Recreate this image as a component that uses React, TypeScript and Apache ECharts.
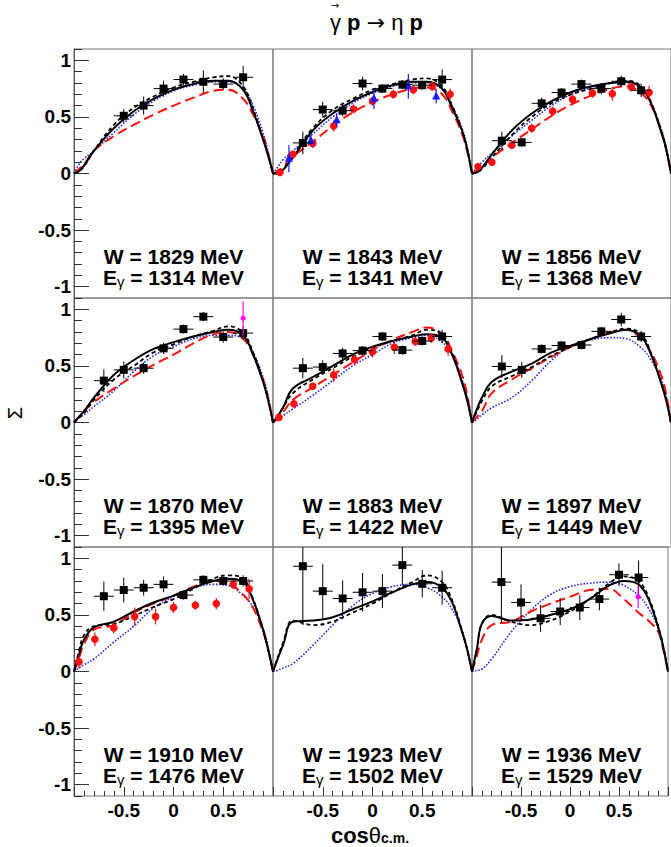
import React, { useEffect, useRef } from 'react';
import * as echarts from 'echarts';

// ---------------- data ----------------
const curveX = [-1, -0.95, -0.9, -0.8, -0.6, -0.4, -0.2, 0, 0.2, 0.4, 0.55, 0.7, 0.8, 0.9, 0.95, 1];
const wValues = [1829, 1843, 1856, 1870, 1883, 1897, 1910, 1923, 1936];
const eValues = [1314, 1341, 1368, 1395, 1422, 1449, 1476, 1502, 1529];
const yTickValues = [-1, -0.5, 0, 0.5, 1];

// black solid model curve, one row per panel (values at curveX)
const solidCurves = [
  [0, 0.02, 0.07, 0.2, 0.4, 0.55, 0.66, 0.74, 0.79, 0.82, 0.82, 0.74, 0.55, 0.3, 0.16, 0],
  [0, 0.0, 0.03, 0.14, 0.38, 0.53, 0.64, 0.72, 0.78, 0.81, 0.81, 0.75, 0.58, 0.38, 0.22, 0],
  [0, 0.01, 0.05, 0.17, 0.38, 0.53, 0.64, 0.72, 0.77, 0.8, 0.81, 0.76, 0.62, 0.37, 0.22, 0],
  [0, 0.05, 0.1, 0.22, 0.42, 0.55, 0.65, 0.71, 0.76, 0.8, 0.82, 0.77, 0.6, 0.36, 0.2, 0],
  [0, 0.06, 0.13, 0.3, 0.4, 0.5, 0.6, 0.67, 0.72, 0.76, 0.78, 0.75, 0.6, 0.35, 0.2, 0],
  [0, 0.12, 0.22, 0.36, 0.45, 0.52, 0.62, 0.68, 0.74, 0.79, 0.82, 0.76, 0.6, 0.35, 0.2, 0],
  [0, 0.15, 0.28, 0.39, 0.44, 0.53, 0.61, 0.67, 0.74, 0.8, 0.82, 0.79, 0.63, 0.37, 0.2, 0],
  [0, 0.12, 0.23, 0.44, 0.45, 0.48, 0.55, 0.62, 0.7, 0.77, 0.79, 0.74, 0.61, 0.35, 0.2, 0],
  [0, 0.2, 0.42, 0.49, 0.45, 0.46, 0.5, 0.55, 0.64, 0.76, 0.8, 0.77, 0.64, 0.39, 0.22, 0],
];
// black dashed model curve
const dashedCurves = [
  [0, 0.02, 0.06, 0.2, 0.43, 0.58, 0.68, 0.76, 0.81, 0.85, 0.86, 0.77, 0.57, 0.31, 0.17, 0],
  [0, 0.01, 0.04, 0.16, 0.4, 0.56, 0.66, 0.74, 0.79, 0.83, 0.84, 0.77, 0.6, 0.38, 0.22, 0],
  [0, 0.01, 0.04, 0.14, 0.34, 0.5, 0.62, 0.7, 0.75, 0.8, 0.82, 0.77, 0.63, 0.38, 0.22, 0],
  [0, 0.04, 0.08, 0.2, 0.38, 0.5, 0.62, 0.69, 0.76, 0.81, 0.85, 0.79, 0.62, 0.37, 0.21, 0],
  [0, 0.06, 0.13, 0.26, 0.38, 0.48, 0.58, 0.66, 0.72, 0.77, 0.82, 0.78, 0.62, 0.36, 0.21, 0],
  [0, 0.1, 0.19, 0.32, 0.41, 0.49, 0.59, 0.67, 0.74, 0.8, 0.83, 0.78, 0.61, 0.36, 0.21, 0],
  [0, 0.18, 0.32, 0.4, 0.42, 0.49, 0.57, 0.64, 0.73, 0.82, 0.85, 0.82, 0.64, 0.37, 0.2, 0],
  [0, 0.13, 0.25, 0.45, 0.41, 0.44, 0.52, 0.6, 0.7, 0.79, 0.85, 0.79, 0.63, 0.36, 0.2, 0],
  [0, 0.2, 0.42, 0.5, 0.44, 0.41, 0.45, 0.53, 0.64, 0.78, 0.84, 0.8, 0.66, 0.4, 0.23, 0],
];
// blue dotted model curve
const blueCurves = [
  [0, 0.08, 0.13, 0.2, 0.36, 0.52, 0.64, 0.73, 0.78, 0.81, 0.81, 0.75, 0.6, 0.36, 0.2, 0],
  [0, 0.06, 0.12, 0.2, 0.35, 0.5, 0.62, 0.71, 0.77, 0.8, 0.8, 0.74, 0.6, 0.4, 0.24, 0],
  [0, 0.05, 0.1, 0.18, 0.33, 0.47, 0.6, 0.7, 0.76, 0.8, 0.8, 0.75, 0.62, 0.4, 0.24, 0],
  [0, 0.04, 0.07, 0.14, 0.28, 0.45, 0.59, 0.67, 0.74, 0.77, 0.77, 0.74, 0.62, 0.4, 0.24, 0],
  [0, 0.03, 0.06, 0.12, 0.24, 0.37, 0.5, 0.6, 0.7, 0.75, 0.77, 0.71, 0.6, 0.38, 0.22, 0],
  [0, 0.03, 0.07, 0.13, 0.22, 0.37, 0.55, 0.68, 0.73, 0.75, 0.74, 0.66, 0.55, 0.38, 0.24, 0],
  [0, 0.03, 0.06, 0.11, 0.26, 0.4, 0.56, 0.66, 0.74, 0.77, 0.76, 0.67, 0.57, 0.38, 0.22, 0],
  [0, 0.01, 0.03, 0.07, 0.23, 0.41, 0.58, 0.69, 0.75, 0.77, 0.74, 0.66, 0.55, 0.36, 0.2, 0],
  [0, 0.01, 0.02, 0.11, 0.35, 0.54, 0.68, 0.75, 0.78, 0.79, 0.76, 0.67, 0.56, 0.38, 0.22, 0],
];
// red long-dashed model curve (none in the W = 1923 MeV panel)
const redCurves = [
  [0, 0.04, 0.08, 0.2, 0.33, 0.43, 0.52, 0.6, 0.67, 0.73, 0.74, 0.66, 0.52, 0.33, 0.18, 0],
  [0, 0.02, 0.06, 0.15, 0.28, 0.42, 0.54, 0.63, 0.7, 0.75, 0.76, 0.7, 0.55, 0.35, 0.2, 0],
  [0, 0.03, 0.06, 0.14, 0.27, 0.39, 0.51, 0.61, 0.69, 0.75, 0.77, 0.71, 0.6, 0.38, 0.22, 0],
  [0, 0.05, 0.1, 0.18, 0.3, 0.41, 0.51, 0.6, 0.7, 0.78, 0.8, 0.74, 0.6, 0.38, 0.22, 0],
  [0, 0.04, 0.09, 0.2, 0.31, 0.42, 0.53, 0.64, 0.73, 0.8, 0.84, 0.78, 0.63, 0.42, 0.25, 0],
  [0, 0.05, 0.1, 0.26, 0.38, 0.48, 0.58, 0.67, 0.74, 0.8, 0.82, 0.74, 0.62, 0.42, 0.26, 0],
  [0, 0.12, 0.24, 0.37, 0.41, 0.52, 0.6, 0.67, 0.75, 0.8, 0.78, 0.68, 0.56, 0.35, 0.2, 0],
  null,
  [0, 0.14, 0.28, 0.41, 0.44, 0.53, 0.6, 0.66, 0.72, 0.73, 0.64, 0.52, 0.45, 0.35, 0.2, 0],
];

// black squares: [cos, sigma, xErr, yErr]
const squarePoints = [
  [[-0.5, 0.51, 0.1, 0.06], [-0.3, 0.6, 0.1, 0.08], [-0.1, 0.75, 0.1, 0.07], [0.1, 0.83, 0.1, 0.05], [0.3, 0.81, 0.1, 0.1], [0.5, 0.79, 0.1, 0.05], [0.7, 0.85, 0.1, 0.1]],
  [[-0.7, 0.27, 0.1, 0.1], [-0.5, 0.565, 0.1, 0.07], [-0.3, 0.555, 0.1, 0.05], [-0.1, 0.795, 0.1, 0.06], [0.1, 0.75, 0.1, 0.04], [0.3, 0.785, 0.1, 0.04], [0.5, 0.78, 0.1, 0.04], [0.7, 0.83, 0.1, 0.09]],
  [[-0.7, 0.29, 0.1, 0.08], [-0.5, 0.275, 0.1, 0.04], [-0.3, 0.62, 0.1, 0.05], [-0.1, 0.715, 0.1, 0.04], [0.1, 0.79, 0.1, 0.04], [0.3, 0.75, 0.1, 0.05], [0.5, 0.815, 0.1, 0.05], [0.7, 0.735, 0.1, 0.06]],
  [[-0.7, 0.37, 0.1, 0.1], [-0.5, 0.465, 0.1, 0.075], [-0.3, 0.48, 0.1, 0.05], [-0.1, 0.655, 0.1, 0.05], [0.1, 0.825, 0.1, 0.04], [0.3, 0.935, 0.1, 0.04], [0.5, 0.755, 0.1, 0.05], [0.7, 0.79, 0.1, 0.06]],
  [[-0.7, 0.48, 0.1, 0.09], [-0.5, 0.49, 0.1, 0.06], [-0.3, 0.61, 0.1, 0.05], [-0.1, 0.635, 0.1, 0.04], [0.1, 0.76, 0.1, 0.04], [0.3, 0.64, 0.1, 0.04], [0.5, 0.72, 0.1, 0.04], [0.7, 0.76, 0.1, 0.06]],
  [[-0.7, 0.495, 0.1, 0.1], [-0.5, 0.465, 0.1, 0.07], [-0.3, 0.65, 0.1, 0.04], [-0.1, 0.68, 0.1, 0.04], [0.1, 0.685, 0.1, 0.04], [0.3, 0.805, 0.1, 0.04], [0.5, 0.91, 0.1, 0.06], [0.7, 0.76, 0.1, 0.05]],
  [[-0.7, 0.665, 0.1, 0.13], [-0.5, 0.72, 0.1, 0.11], [-0.3, 0.74, 0.1, 0.07], [-0.1, 0.77, 0.1, 0.07], [0.1, 0.675, 0.1, 0.04], [0.3, 0.81, 0.1, 0.04], [0.5, 0.8, 0.1, 0.04], [0.7, 0.8, 0.1, 0.05]],
  [[-0.7, 0.93, 0.1, 0.52], [-0.5, 0.71, 0.1, 0.24], [-0.3, 0.645, 0.1, 0.16], [-0.1, 0.7, 0.1, 0.17], [0.1, 0.71, 0.1, 0.15], [0.3, 0.94, 0.1, 0.18], [0.5, 0.775, 0.1, 0.12], [0.7, 0.74, 0.1, 0.15]],
  [[-0.7, 0.79, 0.1, 0.36], [-0.5, 0.61, 0.1, 0.16], [-0.3, 0.47, 0.1, 0.12], [-0.1, 0.53, 0.1, 0.12], [0.1, 0.565, 0.1, 0.11], [0.3, 0.64, 0.1, 0.1], [0.5, 0.855, 0.1, 0.1], [0.7, 0.83, 0.1, 0.15]],
];
// red circles: [cos, sigma, yErr]
const redPoints = [
  [],
  [[-0.93, 0.01, 0.03], [-0.8, 0.17, 0.03], [-0.6, 0.265, 0.04], [-0.39, 0.42, 0.05], [-0.19, 0.57, 0.04], [0.0, 0.64, 0.04], [0.21, 0.7, 0.04], [0.41, 0.74, 0.04], [0.6, 0.77, 0.04], [0.78, 0.7, 0.05]],
  [[-0.94, 0.06, 0.03], [-0.8, 0.1, 0.03], [-0.6, 0.25, 0.03], [-0.4, 0.4, 0.04], [-0.19, 0.55, 0.04], [0.01, 0.655, 0.05], [0.21, 0.71, 0.04], [0.41, 0.705, 0.06], [0.6, 0.765, 0.04], [0.78, 0.715, 0.06]],
  [],
  [[-0.94, 0.045, 0.03], [-0.79, 0.165, 0.03], [-0.6, 0.32, 0.03], [-0.39, 0.42, 0.06], [-0.18, 0.555, 0.05], [0.0, 0.625, 0.05], [0.22, 0.665, 0.06], [0.43, 0.715, 0.04], [0.59, 0.745, 0.04], [0.76, 0.65, 0.06]],
  [],
  [[-0.95, 0.085, 0.06], [-0.79, 0.285, 0.06], [-0.6, 0.385, 0.05], [-0.39, 0.485, 0.08], [-0.18, 0.485, 0.07], [0.0, 0.565, 0.05], [0.22, 0.585, 0.04], [0.43, 0.6, 0.05], [0.6, 0.77, 0.04], [0.76, 0.73, 0.09]],
  [],
  [],
];
// blue triangles: [cos, sigma, yErr]
const trianglePoints = [
  [],
  [[-0.84, 0.13, 0.12], [-0.62, 0.29, 0.05], [-0.36, 0.47, 0.06], [0.015, 0.66, 0.09], [0.36, 0.77, 0.11], [0.64, 0.68, 0.06]],
  [], [], [], [], [], [], [],
];
// magenta points: [cos, sigma, yErr]
const magentaPoints = [
  [], [], [],
  [[0.7, 0.92, 0.15]],
  [], [], [], [],
  [[0.695, 0.66, 0.1]],
];

// ---------------- layout ----------------
const FONT = '"Liberation Sans", Arial, Helvetica, sans-serif';
const PX0 = 74;
const PY0 = 49;
const PW = 199;
const PH = 249;

function renderSquare(params: any, api: any) {
  const x = api.value(0), y = api.value(1), ex = api.value(2), ey = api.value(3);
  const c = api.coord([x, y]);
  const l = api.coord([x - ex, y]);
  const r = api.coord([x + ex, y]);
  const t = api.coord([x, y + ey]);
  const b = api.coord([x, y - ey]);
  return {
    type: 'group',
    children: [
      { type: 'line', shape: { x1: l[0], y1: l[1], x2: r[0], y2: r[1] }, style: { stroke: '#000', lineWidth: 1 } },
      { type: 'line', shape: { x1: t[0], y1: t[1], x2: b[0], y2: b[1] }, style: { stroke: '#000', lineWidth: 1 } },
      { type: 'rect', shape: { x: c[0] - 4, y: c[1] - 4, width: 8, height: 8 }, style: { fill: '#000' } },
    ],
  };
}

function makeVertical(color: string, marker: string, size: number) {
  return (params: any, api: any) => {
    const x = api.value(0), y = api.value(1), ey = api.value(2);
    const c = api.coord([x, y]);
    const t = api.coord([x, y + ey]);
    const b = api.coord([x, y - ey]);
    const children: any[] = [
      { type: 'line', shape: { x1: t[0], y1: t[1], x2: b[0], y2: b[1] }, style: { stroke: color, lineWidth: 1.2 } },
    ];
    if (marker === 'circle') {
      children.push({ type: 'circle', shape: { cx: c[0], cy: c[1], r: size }, style: { fill: color } });
    } else {
      children.push({
        type: 'polygon',
        shape: { points: [[c[0], c[1] - size - 1], [c[0] - size, c[1] + size - 1], [c[0] + size, c[1] + size - 1]] },
        style: { fill: color },
      });
    }
    return { type: 'group', children };
  };
}

function buildOption() {
  const grid: any[] = [];
  const xAxis: any[] = [];
  const yAxis: any[] = [];
  const series: any[] = [];
  const graphic: any[] = [];
  const labelFont = { color: '#000', fontSize: 19, fontWeight: 'bold', fontFamily: FONT };

  for (let i = 0; i < 9; i++) {
    const r = Math.floor(i / 3);
    const c = i % 3;
    const left = PX0 + PW * c;
    const top = PY0 + PH * r;
    const bottomRow = r === 2;
    grid.push({ left, top, width: PW, height: PH, show: true, borderColor: '#777', borderWidth: 1, backgroundColor: 'transparent' });
    xAxis.push({
      type: 'value', gridIndex: i, min: -1, max: 1, interval: 0.5, position: 'bottom',
      axisLine: { show: false, onZero: false }, splitLine: { show: false },
      axisTick: { show: bottomRow, inside: true, length: 9, lineStyle: { color: '#333', width: 1 } },
      minorTick: { show: bottomRow, splitNumber: 5, length: 5, lineStyle: { color: '#333', width: 1 } },
      minorSplitLine: { show: false },
      axisLabel: {
        show: bottomRow, margin: 5, ...labelFont,
        formatter: (v: number) => (Math.abs(v) > 0.99 ? '' : String(v)),
      },
    });
    yAxis.push({
      type: 'value', gridIndex: i, min: -1.1, max: 1.1, interval: 0.1, position: 'left',
      axisLine: { show: c === 0, onZero: false, lineStyle: { color: '#555', width: 1 } },
      splitLine: { show: false },
      axisTick: { show: c === 0, inside: true, length: 8, lineStyle: { color: '#333', width: 1 } },
      axisLabel: { show: false },
    });

    const xy = (arr: number[]) => curveX.map((x, k) => [x, arr[k]]);
    const line = (data: number[], color: string, width: number, type: any, z: number) => ({
      type: 'line', xAxisIndex: i, yAxisIndex: i, data: xy(data), showSymbol: false, symbol: 'none',
      smooth: 0.4, silent: true, z,
      lineStyle: { color, width, type },
    });
    series.push(line(blueCurves[i], '#2a2aff', 1.6, 'dotted', 2));
    if (redCurves[i]) series.push(line(redCurves[i] as number[], '#ff1010', 2, [10, 5], 3));
    series.push(line(dashedCurves[i], '#000', 1.8, [4, 3], 4));
    series.push(line(solidCurves[i], '#000', 2, 'solid', 5));

    if (redPoints[i].length) {
      series.push({ type: 'custom', xAxisIndex: i, yAxisIndex: i, clip: true, z: 8, silent: true,
        data: redPoints[i], encode: { x: 0, y: 1 }, renderItem: makeVertical('#ff1010', 'circle', 3.8) });
    }
    if (trianglePoints[i].length) {
      series.push({ type: 'custom', xAxisIndex: i, yAxisIndex: i, clip: true, z: 9, silent: true,
        data: trianglePoints[i], encode: { x: 0, y: 1 }, renderItem: makeVertical('#1a1aff', 'triangle', 4) });
    }
    series.push({ type: 'custom', xAxisIndex: i, yAxisIndex: i, clip: true, z: 10, silent: true,
      data: squarePoints[i], encode: { x: 0, y: 1 }, renderItem: renderSquare });
    if (magentaPoints[i].length) {
      series.push({ type: 'custom', xAxisIndex: i, yAxisIndex: i, clip: true, z: 11, silent: true,
        data: magentaPoints[i], encode: { x: 0, y: 1 }, renderItem: makeVertical('#ff00ff', 'circle', 2.6) });
    }

    const cx = left + PW / 2;
    graphic.push({
      type: 'text', x: cx, y: top + 207, z: 100,
      style: { text: `W = ${wValues[i]} MeV`, fontSize: 21, fontWeight: 'bold', fontFamily: FONT, fill: '#000',
        textAlign: 'center', verticalAlign: 'middle', textVerticalAlign: 'middle' },
    });
    graphic.push({
      type: 'text', x: cx, y: top + 228, z: 100,
      style: {
        text: `{a|E}{s|γ}{a| = ${eValues[i]} MeV}`,
        textAlign: 'center', verticalAlign: 'middle', textVerticalAlign: 'middle',
        fontSize: 21, fontFamily: FONT, fill: '#000',
        rich: {
          a: { fontSize: 21, fontWeight: 'bold', fontFamily: FONT, fill: '#000', lineHeight: 24 },
          s: { fontSize: 15, fontFamily: FONT, fill: '#000', lineHeight: 15, verticalAlign: 'bottom' },
        },
      },
    });
  }
  // major ticks and labels of the left column
  for (let r = 0; r < 3; r++) {
    yAxis.push({
      type: 'value', gridIndex: r * 3, min: -1.1, max: 1.1, position: 'left', offset: 0,
      axisLine: { show: false, onZero: false }, splitLine: { show: false },
      axisTick: { show: true, inside: true, length: 15, customValues: yTickValues, lineStyle: { color: '#333', width: 1 } },
      axisLabel: { show: true, customValues: yTickValues, margin: 3, ...labelFont, formatter: (v: number) => String(v) },
    });
  }

  // title
  graphic.push({
    type: 'text', x: 330, y: 22, z: 100,
    style: {
      text: '{g|γ} {p|p} {a|→} {g|η} {p|p}',
      fontSize: 22, fontFamily: FONT, fill: '#000', textAlign: 'left', verticalAlign: 'middle', textVerticalAlign: 'middle',
      rich: {
        g: { fontSize: 22, fontFamily: FONT, fill: '#000' },
        a: { fontSize: 22, fontFamily: '"DejaVu Sans", sans-serif', fill: '#000' },
        p: { fontSize: 22, fontWeight: 'bold', fontFamily: FONT, fill: '#000' },
      },
    },
  });
  graphic.push({
    type: 'text', x: 335, y: 5, z: 100,
    style: { text: '→', fontSize: 10, fontFamily: '"DejaVu Sans", sans-serif', fill: '#000', textAlign: 'center', verticalAlign: 'middle', textVerticalAlign: 'middle' },
  });
  // y title
  graphic.push({
    type: 'text', x: 15, y: 413, rotation: Math.PI / 2, z: 100,
    style: { text: 'Σ', fontSize: 20, fontFamily: FONT, fill: '#000', textAlign: 'center', verticalAlign: 'middle', textVerticalAlign: 'middle' },
  });
  // x title
  graphic.push({
    type: 'text', x: 370, y: 835, z: 100,
    style: {
      text: '{b|cos}{t|θ}{s|c.m.}',
      fontSize: 22, fontFamily: FONT, fill: '#000', textAlign: 'center', verticalAlign: 'middle', textVerticalAlign: 'middle',
      rich: {
        b: { fontSize: 22, fontWeight: 'bold', fontFamily: FONT, fill: '#000', lineHeight: 20 },
        t: { fontSize: 22, fontFamily: FONT, fill: '#000', lineHeight: 20 },
        s: { fontSize: 14, fontWeight: 'bold', fontFamily: FONT, fill: '#000', lineHeight: 12, verticalAlign: 'bottom' },
      },
    },
  });

  return { animation: false, backgroundColor: '#fff', grid, xAxis, yAxis, series, graphic };
}

export default function App() {
  const ref = useRef<HTMLDivElement>(null);
  useEffect(() => {
    if (!ref.current) return;
    const chart = echarts.init(ref.current, null, { renderer: 'svg' });
    chart.setOption(buildOption() as any);
    return () => chart.dispose();
  }, []);
  return (
    <div
      ref={ref}
      style={{ position: 'absolute', left: 0, top: 0, width: 671, height: 847, background: '#fff' }}
    />
  );
}
